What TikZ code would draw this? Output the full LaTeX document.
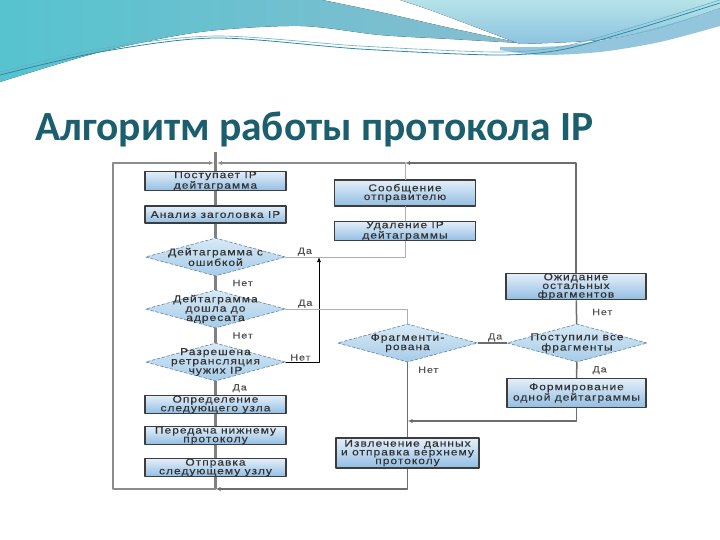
\documentclass[tikz,border=0pt]{standalone}
\usepackage{fontspec}
\setmainfont{Liberation Sans}
\newfontfamily\titlefont{Carlito}
\newfontfamily\chartfont[FakeStretch=1.2,LetterSpace=10,FakeBold=0.3]{Liberation Sans}
\usetikzlibrary{shapes.geometric,arrows.meta}
\definecolor{ttl}{HTML}{1B5E6E}
\definecolor{boxtop}{HTML}{E4EFF9}
\definecolor{boxbot}{HTML}{92BEE3}
\definecolor{boxline}{HTML}{3D3D3D}
\definecolor{rombtop}{HTML}{D8E9F6}
\definecolor{rombbot}{HTML}{A6CCE8}
\definecolor{rombline}{HTML}{5E86A8}
\definecolor{chtext}{HTML}{333333}
\definecolor{osline}{HTML}{808080}
\definecolor{ramka}{HTML}{8C8C8C}
\definecolor{wavedark}{HTML}{56C3CF}
\definecolor{wavemid}{HTML}{86BDD0}
\definecolor{wavelight}{HTML}{B6E3E8}
\definecolor{waveblue}{HTML}{8CC3E0}
\definecolor{waveline}{HTML}{2B8AA3}
\begin{document}
\begin{tikzpicture}[x=1pt,y=-1pt,line join=round,line cap=round,>={Latex[length=5pt,width=4pt]},
blok/.style={draw=boxline,line width=1.1pt,top color=boxtop,bottom color=boxbot,minimum width=141pt,minimum height=17pt,inner sep=0pt,align=center,text=chtext,font=\chartfont\fontsize{10}{8.7}\selectfont},
romb/.style={diamond,draw=rombline,densely dashed,line width=0.6pt,top color=rombtop,bottom color=rombbot,minimum width=140pt,minimum height=38pt,inner sep=0pt},
rtxt/.style={align=center,inner sep=0pt,text=chtext,font=\chartfont\fontsize{10}{9.3}\selectfont},
lbl/.style={inner sep=1pt,text=chtext!85,font=\chartfont\fontsize{9}{9}\selectfont},
os/.style={draw=osline,line width=2.2pt,line cap=butt},
rline/.style={draw=osline!85!black,line width=1.5pt,line cap=butt},
fline/.style={draw=ramka,line width=1.2pt},
tline/.style={draw=ramka!70,line width=0.8pt}]
\useasboundingbox (0,0) rectangle (720,540);
\fill[white] (0,0) rectangle (720,540);
\fill[left color=wavedark,right color=wavemid] (0,0) -- (322,0) -- plot[smooth] coordinates {(322,0) (380,12) (450,28) (520,43)} -- plot[smooth] coordinates {(520,43) (450,39) (380,35) (300,26) (200,32) (100,52) (0,82)} -- cycle;
\fill[top color=wavelight,bottom color=waveblue] (400,0) -- (720,0) -- (720,8) -- plot[smooth] coordinates {(720,8) (660,28) (600,40) (520,44)} -- plot[smooth] coordinates {(520,44) (470,25) (430,10) (400,0)} -- cycle;
\fill[waveblue!80!waveline,opacity=.8] plot[smooth] coordinates {(500,47) (560,46) (620,37) (680,21) (720,8)} -- (720,26) -- plot[smooth] coordinates {(720,26) (660,42) (600,52) (540,55) (500,50)} -- cycle;
\draw[waveline,line width=0.8pt] plot[smooth] coordinates {(0,75) (100,52) (215,38) (360,49) (495,55) (560,50) (627,32) (720,3)};
\draw[waveline!70,line width=0.6pt] plot[smooth] coordinates {(0,72) (100,49) (215,36) (360,46) (495,52) (560,47) (627,29) (720,0)};
\node[anchor=base west,inner sep=0pt,text=ttl,font=\titlefont\bfseries\fontsize{41.5}{48}\selectfont] (title) at (35,141) {Алгоритм работы протокола IP};
\coordinate (vh) at (215.5,152);
\coordinate (j0) at (215.5,163);
\coordinate (j1) at (405,163);
\coordinate (tl) at (113,163);
\coordinate (bl) at (113,489);
\coordinate (j2) at (215.5,489);
\coordinate (j5) at (319,257);
\coordinate (j6) at (407.5,421);
\node[blok,minimum height=18pt] (b1) at (215.5,181) {Поступает IP\\дейтаграмма};
\node[blok] (b2) at (215.5,214.5) {Анализ заголовка IP};
\node[romb,label={[rtxt]center:{Дейтаграмма с\\ошибкой}}] (d1) at (215.5,257) {};
\node[romb,label={[rtxt]center:{Дейтаграмма\\дошла до\\адресата}}] (d2) at (215.5,309) {};
\node[romb,label={[rtxt]center:{Разрешена\\ретрансляция\\чужих IP}}] (d3) at (215.5,362) {};
\node[blok] (b3) at (215.5,404.5) {Определение\\следующего узла};
\node[blok] (b4) at (215.5,435.5) {Передача нижнему\\протоколу};
\node[blok] (b5) at (215.5,467.5) {Отправка\\следующему узлу};
\node[blok,minimum height=26pt] (s1) at (405,193) {Сообщение\\отправителю};
\node[blok,minimum height=16pt] (u1) at (405,231) {Удаление IP\\дейтаграммы};
\node[blok,minimum width=140pt,minimum height=25pt] (w1) at (576,286.5) {Ожидание\\остальных\\фрагментов};
\node[romb,label={[rtxt]center:{Поступили все\\фрагменты}}] (d5) at (577,343) {};
\node[blok,minimum width=139pt,minimum height=29pt] (f1) at (576.5,393) {Формирование\\одной дейтаграммы};
\node[romb,label={[rtxt]center:{Фрагменти-\\рована}}] (d4) at (407.5,343) {};
\node[blok,minimum width=143pt,minimum height=30pt] (e1) at (407.5,453) {Извлечение данных\\и отправка верхнему\\протоколу};
\draw[os] (vh) -- (b1);
\draw[os] (b1) -- (b2);
\draw[os] (b2) -- (d1);
\draw[os] (d1) -- node[lbl,right=15pt] (n1) {Нет} (d2);
\draw[os] (d2) -- node[lbl,right=15pt] (n2) {Нет} (d3);
\draw[os] (d3) -- node[lbl,right=15pt] (y3) {Да} (b3);
\draw[os] (b3) -- (b4);
\draw[os] (b4) -- (b5);
\draw[os] (b5) -- (j2);
\draw[fline,->,shorten >=1.5pt] (j2) -- (bl) |- (j0);
\draw[fline,->,shorten >=1.5pt] (j1) -- (j0);
\draw[tline,line width=1pt] (s1) -- (j1);
\draw[tline,line width=1pt] (u1) -- (s1);
\draw[tline] (d1.east) -| node[lbl,above,pos=.08] (y1) {Да} (u1);
\draw[black,line width=0.8pt,->] (d3.east) -| node[lbl,above,pos=.22] (n3) {Нет} (j5);
\draw[tline] (d2.east) -| node[lbl,above,pos=.08] (y2) {Да} (d4);
\draw[rline] (d4) -- node[lbl,above,pos=.6] (y4) {Да} (d5);
\draw[rline] (d5) -- node[lbl,right=14pt] (n5) {Нет} (w1);
\draw[rline,->] (w1) |- (j1);
\draw[rline] (d5) -- node[lbl,right=14pt] (y5) {Да} (f1);
\draw[rline,->] (f1) |- (j6);
\draw[rline] (d4) -- node[lbl,right=9pt,pos=.1] (n4) {Нет} (e1);
\draw[rline,->] (e1) |- (j2);
\end{tikzpicture}
\end{document}
